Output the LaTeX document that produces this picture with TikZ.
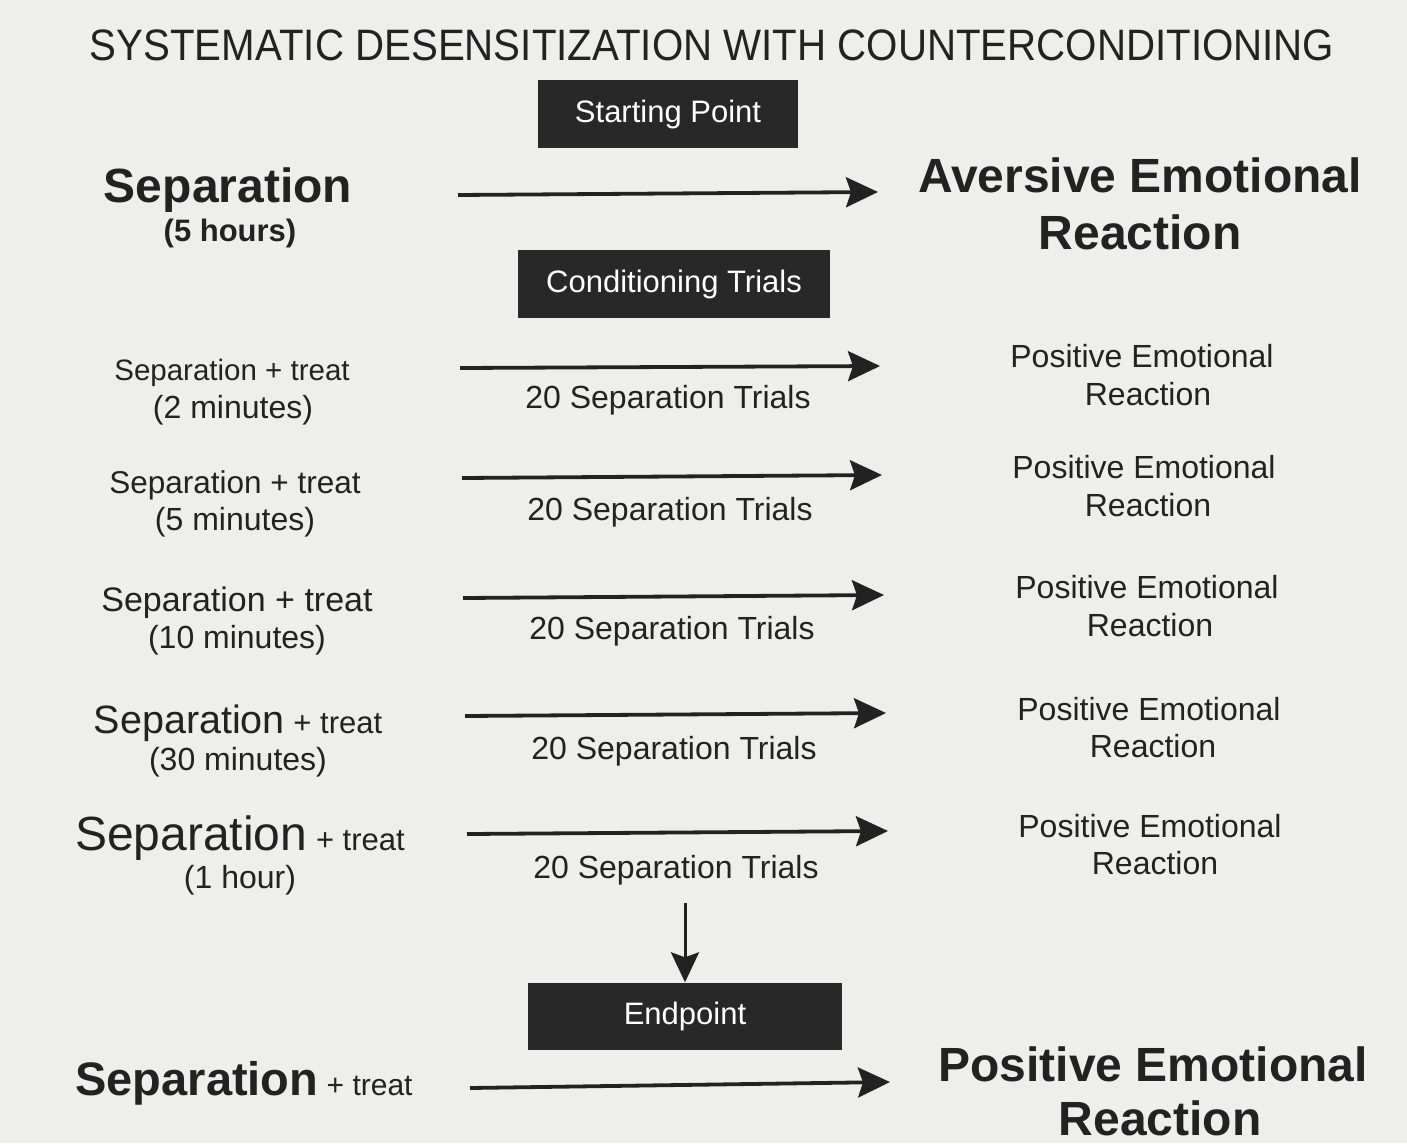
\documentclass[tikz,border=0pt]{standalone}
\usepackage{fontspec}
\setmainfont{Liberation Sans}
\usetikzlibrary{arrows.meta}
\definecolor{paper}{RGB}{238,238,235}
\definecolor{ink}{RGB}{34,34,34}
\definecolor{boxc}{RGB}{40,40,40}
\newcommand{\fs}[1]{\fontsize{#1}{#1}\selectfont}
\begin{document}
\begin{tikzpicture}[x=1pt,y=-1pt,
  txt/.style={inner sep=0pt, text=ink, anchor=center},
  mid/.style={txt, font=\fs{32}},
  bigb/.style={txt, font=\bfseries\fs{48}},
  blackbox/.style={fill=boxc, text=white, inner sep=0pt, font=\fs{31}},
  arr/.style={draw=ink, line width=3.8pt, -{Stealth[length=32pt,width=30pt,inset=5pt]}},
  varr/.style={draw=ink, line width=3pt, -{Stealth[length=30pt,width=28pt,inset=5pt]}}]
\fill[paper] (0,0) rectangle (1407,1143);
\useasboundingbox (0,0) rectangle (1407,1143);

% title
\node[txt, font=\fs{44}] (title) at (712,45) {\scalebox{0.915}[1]{SYSTEMATIC DESENSITIZATION WITH COUNTERCONDITIONING}};

% boxes
\node[blackbox, minimum width=260pt, minimum height=68pt] (start) at (668,114) {Starting Point};
\node[blackbox, minimum width=312pt, minimum height=68pt] (cond) at (674,284) {Conditioning Trials};
\node[blackbox, minimum width=314pt, minimum height=67pt] (endp) at (685,1016) {Endpoint};

% starting row
\node[bigb] (s0) at (228,190) {Separation};
\node[txt, font=\bfseries\fs{31}] (s0b) at (230,233) {(5 hours)};
\node[bigb] (r0) at (1140,175) {Aversive Emotional};
\node[bigb] (r0b) at (1140,232) {Reaction};
\coordinate (a0s) at (458,195);
\coordinate (a0e) at (878,192);
\draw[arr] (a0s) -- (a0e);

% row 1
\node[txt, font=\fs{29.5}] (s1) at (232,373) {Separation + treat};
\node[mid] (s1b) at (233,410) {(2 minutes)};
\node[mid] (m1) at (668,400) {20 Separation Trials};
\node[mid] (r1) at (1142,356) {Positive Emotional};
\node[mid] (r1b) at (1148,394) {Reaction};
\coordinate (a1s) at (460,368);
\coordinate (a1e) at (880,366);
\draw[arr] (a1s) -- (a1e);

% row 2
\node[txt, font=\fs{31.5}] (s2) at (235,485) {Separation + treat};
\node[mid] (s2b) at (235,522) {(5 minutes)};
\node[mid] (m2) at (670,512) {20 Separation Trials};
\node[mid] (r2) at (1144,467) {Positive Emotional};
\node[mid] (r2b) at (1148,505) {Reaction};
\coordinate (a2s) at (462,478);
\coordinate (a2e) at (882,475);
\draw[arr] (a2s) -- (a2e);

% row 3
\node[txt, font=\fs{34}] (s3) at (237,603) {Separation + treat};
\node[mid] (s3b) at (237,640) {(10 minutes)};
\node[mid] (m3) at (672,631) {20 Separation Trials};
\node[mid] (r3) at (1147,587) {Positive Emotional};
\node[mid] (r3b) at (1150,625) {Reaction};
\coordinate (a3s) at (463,598);
\coordinate (a3e) at (884,595);
\draw[arr] (a3s) -- (a3e);

% row 4
\node[txt] (s4) at (238,723) {\fs{39.5}Separation\fs{31} + treat};
\node[mid] (s4b) at (238,762) {(30 minutes)};
\node[mid] (m4) at (674,751) {20 Separation Trials};
\node[mid] (r4) at (1149,709) {Positive Emotional};
\node[mid] (r4b) at (1153,746) {Reaction};
\coordinate (a4s) at (465,716);
\coordinate (a4e) at (886,713);
\draw[arr] (a4s) -- (a4e);

% row 5
\node[txt] (s5) at (240,838) {\fs{48}Separation\fs{31} + treat};
\node[mid] (s5b) at (240,880) {(1 hour)};
\node[mid] (m5) at (676,870) {20 Separation Trials};
\node[mid] (r5) at (1150,826) {Positive Emotional};
\node[mid] (r5b) at (1155,863) {Reaction};
\coordinate (a5s) at (467,834);
\coordinate (a5e) at (888,831);
\draw[arr] (a5s) -- (a5e);

% vertical arrow
\coordinate (vs) at (685,903);
\draw[varr] (vs) -- (endp.north);

% final row
\node[txt] (s6) at (244,1083) {{\bfseries\fs{47}Separation}\fs{30} + treat};
\node[bigb] (r6) at (1153,1064) {Positive Emotional};
\node[bigb] (r6b) at (1160,1118) {Reaction};
\coordinate (a6s) at (470,1088);
\coordinate (a6e) at (890,1082);
\draw[arr] (a6s) -- (a6e);
\end{tikzpicture}
\end{document}
